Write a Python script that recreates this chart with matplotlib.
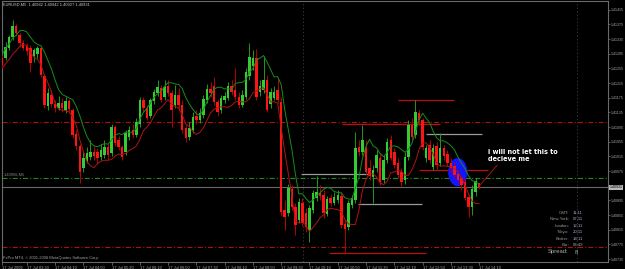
import matplotlib.pyplot as plt
import matplotlib.patches as mpatches
import matplotlib.transforms as mtransforms
import numpy as np
import pandas as pd

plt.rcParams["lines.scale_dashes"] = False
plt.rcParams["font.family"] = ["Liberation Sans", "DejaVu Sans"]

# EURUSD M5, 17 Jul 2009, bars 02:55 .. 14:10
opens = [
    1.41284, 1.41284, 1.41311, 1.41341, 1.41371, 1.41346, 1.41325, 1.41316, 1.41311, 1.41289,
    1.41295, 1.41311, 1.41235, 1.41153, 1.41183, 1.41158, 1.41147, 1.41161, 1.41142, 1.41166,
    1.41142, 1.41076, 1.41043, 1.40983, 1.41002, 1.41013, 1.41027, 1.41027, 1.41013, 1.41019,
    1.41041, 1.41024, 1.41095, 1.41060, 1.41041, 1.41027, 1.41068, 1.41087, 1.41073, 1.41103,
    1.41169, 1.41147, 1.41125, 1.41166, 1.41188, 1.41202, 1.41177, 1.41207, 1.41188, 1.41155,
    1.41183, 1.41155, 1.41093, 1.41068, 1.41087, 1.41125, 1.41114, 1.41128, 1.41169, 1.41199,
    1.41207, 1.41164, 1.41142, 1.41169, 1.41174, 1.41207, 1.41196, 1.41177, 1.41155, 1.41177,
    1.41235, 1.41262, 1.41284, 1.41191, 1.41196, 1.41224, 1.41158, 1.41174, 1.41196, 1.41164,
    1.40869, 1.40861, 1.40926, 1.40877, 1.40841, 1.40888, 1.40861, 1.40814, 1.40869, 1.40901,
    1.40915, 1.40910, 1.40858, 1.40901, 1.40888, 1.40896, 1.40907, 1.40830, 1.40822, 1.40882,
    1.40896, 1.41041, 1.41027, 1.41038, 1.40983, 1.40959, 1.40983, 1.41011, 1.40951, 1.41005,
    1.41060, 1.41027, 1.40997, 1.40972, 1.40951, 1.41013, 1.41101, 1.41073, 1.41134, 1.41114,
    1.41011, 1.41046, 1.40986, 1.41043, 1.40997, 1.41038, 1.41022, 1.40997, 1.40989, 1.40967,
    1.40956, 1.40945, 1.40904, 1.40877, 1.40918, 1.40942,
]
highs = [
    1.41292, 1.41327, 1.41346, 1.41387, 1.41376, 1.41352, 1.41333, 1.41325, 1.41319, 1.41311,
    1.41316, 1.41314, 1.41240, 1.41202, 1.41196, 1.41169, 1.41180, 1.41174, 1.41177, 1.41172,
    1.41147, 1.41087, 1.41049, 1.41027, 1.41041, 1.41060, 1.41043, 1.41038, 1.41049, 1.41060,
    1.41052, 1.41103, 1.41101, 1.41071, 1.41046, 1.41087, 1.41098, 1.41103, 1.41120, 1.41177,
    1.41177, 1.41155, 1.41174, 1.41199, 1.41224, 1.41210, 1.41224, 1.41224, 1.41196, 1.41210,
    1.41202, 1.41169, 1.41101, 1.41109, 1.41136, 1.41142, 1.41147, 1.41183, 1.41213, 1.41218,
    1.41232, 1.41172, 1.41183, 1.41191, 1.41218, 1.41224, 1.41256, 1.41191, 1.41196, 1.41256,
    1.41325, 1.41305, 1.41308, 1.41224, 1.41289, 1.41237, 1.41202, 1.41207, 1.41229, 1.41177,
    1.40896, 1.40940, 1.40937, 1.40888, 1.40901, 1.40901, 1.40874, 1.40882, 1.40923, 1.40962,
    1.40937, 1.40923, 1.40907, 1.40912, 1.40918, 1.40923, 1.40918, 1.40841, 1.40896, 1.40910,
    1.41082, 1.41060, 1.41101, 1.41060, 1.41005, 1.40992, 1.41032, 1.41024, 1.41019, 1.41065,
    1.41073, 1.41038, 1.41011, 1.40983, 1.41027, 1.41114, 1.41120, 1.41169, 1.41142, 1.41120,
    1.41046, 1.41060, 1.41049, 1.41054, 1.41079, 1.41046, 1.41032, 1.41011, 1.41000, 1.40978,
    1.40964, 1.40956, 1.40912, 1.40937, 1.40956, 1.40942,
]
lows = [
    1.41256, 1.41278, 1.41305, 1.41333, 1.41344, 1.41314, 1.41305, 1.41292, 1.41245, 1.41273,
    1.41284, 1.41232, 1.41147, 1.41142, 1.41150, 1.41136, 1.41142, 1.41136, 1.41134, 1.41134,
    1.41065, 1.41032, 1.40942, 1.40972, 1.40997, 1.41005, 1.41005, 1.40997, 1.41005, 1.41011,
    1.41005, 1.41016, 1.41043, 1.41032, 1.41005, 1.41019, 1.41060, 1.41065, 1.41068, 1.41095,
    1.41136, 1.41114, 1.41120, 1.41158, 1.41180, 1.41164, 1.41169, 1.41180, 1.41095, 1.41147,
    1.41142, 1.41079, 1.41054, 1.41060, 1.41079, 1.41103, 1.41106, 1.41120, 1.41161, 1.41177,
    1.41155, 1.41125, 1.41134, 1.41161, 1.41169, 1.41183, 1.41169, 1.41147, 1.41150, 1.41172,
    1.41224, 1.41251, 1.41169, 1.41180, 1.41188, 1.41136, 1.41147, 1.41169, 1.41161, 1.40852,
    1.40814, 1.40852, 1.40869, 1.40800, 1.40833, 1.40825, 1.40809, 1.40781, 1.40861, 1.40893,
    1.40896, 1.40847, 1.40852, 1.40880, 1.40882, 1.40888, 1.40820, 1.40751, 1.40814, 1.40874,
    1.40888, 1.41016, 1.41019, 1.40964, 1.40951, 1.40888, 1.40972, 1.40937, 1.40942, 1.40997,
    1.41005, 1.40983, 1.40956, 1.40934, 1.40940, 1.41005, 1.41060, 1.41065, 1.41101, 1.41032,
    1.41000, 1.40997, 1.40978, 1.40978, 1.40989, 1.41005, 1.40989, 1.40972, 1.40956, 1.40940,
    1.40923, 1.40896, 1.40850, 1.40855, 1.40907, 1.40927,
]
closes = [
    1.41265, 1.41314, 1.41341, 1.41371, 1.41352, 1.41325, 1.41311, 1.41303, 1.41270, 1.41305,
    1.41311, 1.41237, 1.41155, 1.41188, 1.41158, 1.41147, 1.41161, 1.41147, 1.41166, 1.41144,
    1.41073, 1.41043, 1.40972, 1.41011, 1.41024, 1.41027, 1.41016, 1.41011, 1.41032, 1.41041,
    1.41019, 1.41095, 1.41052, 1.41041, 1.41013, 1.41079, 1.41087, 1.41073, 1.41109, 1.41169,
    1.41147, 1.41120, 1.41169, 1.41191, 1.41204, 1.41169, 1.41204, 1.41188, 1.41142, 1.41183,
    1.41155, 1.41087, 1.41065, 1.41093, 1.41123, 1.41114, 1.41134, 1.41172, 1.41199, 1.41188,
    1.41164, 1.41136, 1.41174, 1.41180, 1.41207, 1.41191, 1.41177, 1.41155, 1.41183, 1.41245,
    1.41286, 1.41284, 1.41177, 1.41207, 1.41224, 1.41142, 1.41191, 1.41191, 1.41169, 1.40863,
    1.40850, 1.40929, 1.40877, 1.40828, 1.40891, 1.40833, 1.40822, 1.40874, 1.40915, 1.40918,
    1.40907, 1.40861, 1.40899, 1.40888, 1.40904, 1.40910, 1.40828, 1.40817, 1.40888, 1.40901,
    1.41038, 1.41027, 1.41060, 1.40972, 1.40962, 1.40978, 1.41019, 1.40945, 1.41005, 1.41054,
    1.41011, 1.40992, 1.40964, 1.40945, 1.41013, 1.41101, 1.41068, 1.41136, 1.41114, 1.41041,
    1.41038, 1.41005, 1.41038, 1.40992, 1.41038, 1.41016, 1.40997, 1.40983, 1.40964, 1.40951,
    1.40937, 1.40901, 1.40877, 1.40926, 1.40948, 1.40931,
]

time_labels = [
    "17 Jul 2009", "17 Jul 03:30", "17 Jul 04:10", "17 Jul 04:50", "17 Jul 05:30",
    "17 Jul 06:10", "17 Jul 06:50", "17 Jul 07:30", "17 Jul 08:10", "17 Jul 08:50",
    "17 Jul 09:30", "17 Jul 10:10", "17 Jul 10:50", "17 Jul 11:30", "17 Jul 12:10",
    "17 Jul 12:50", "17 Jul 13:30", "17 Jul 14:10",
]
label_bars = [0, 7, 15, 23, 31, 39, 47, 55, 63, 71, 79, 87, 95, 103, 111, 119, 127, 135]

price_ticks = [1.41415, 1.41375, 1.41335, 1.41295, 1.41255, 1.41215, 1.41175, 1.41135,
               1.41095, 1.41055, 1.41015, 1.40975, 1.40895, 1.40855, 1.40815, 1.40775,
               1.40735]

# horizontal levels across the whole chart
red_levels = [1.41109, 1.40769]
green_level = 1.40956
green_level_text = "1.40956,M5"

# short trend lines drawn by hand: start bar, end bar, price
red_seg_start = [112.1, 96.3, 118.1, 92.4]
red_seg_end = [128.0, 124.0, 137.6, 120.1]
red_seg_price = [1.41169, 1.41103, 1.40978, 1.40751]
grey_seg_start = [120.1, 84.5, 100.6]
grey_seg_end = [135.9, 104.2, 118.9]
grey_seg_price = [1.41076, 1.40967, 1.40885]

separator_bars = [85.3, 162.7]

info_labels = ["GMT:", "New York:", "London:", "Tokyo:", "Broker:", "Bar:"]
info_values = ["11:11", "07:11", "12:11", "20:11", "14:11", "03:49"]
spread = "8"

W, H = 625, 269
px_bar = 3.54  # pixels per bar

fig = plt.figure(figsize=(W / 100, H / 100), dpi=100, facecolor="black")
ax = fig.add_axes([2 / W, 1 - 262 / H, 606 / W, 261 / H])
ax.set_facecolor("black")

o = np.array(opens)
h = np.array(highs)
l = np.array(lows)
c = np.array(closes)
x = np.arange(len(o))
up = c >= o

# candles
ax.vlines(x[up], l[up], h[up], color="#1e9a1e", lw=0.7, zorder=3)
ax.vlines(x[~up], l[~up], h[~up], color="#b80000", lw=0.7, zorder=3)
body = np.maximum(np.abs(c - o), 0.000018)
ax.bar(x, body, bottom=np.minimum(o, c), width=0.7,
       color=np.where(up, "#33cc33", "#ff1414"), linewidth=0, zorder=4)

# moving averages of highs and lows
ma_high = pd.Series(highs).rolling(5, min_periods=1).mean()
ma_low = pd.Series(lows).rolling(5, min_periods=1).mean()
ax.plot(x, ma_high, color="#1a8c1a", lw=0.7, zorder=5)
ax.plot(x, ma_low, color="#b01414", lw=0.7, zorder=5)

dashdot = (0, (3.6, 1.5, 0.8, 1.5))
for lv in red_levels:
    ax.axhline(lv, color="#b01010", lw=0.8, linestyle=dashdot, zorder=2)
ax.axhline(green_level, color="#1f8a1f", lw=0.8, linestyle=dashdot, zorder=2)
ax.text(0.6, green_level + 0.00003, green_level_text, color="#8a8a8a",
        fontsize=2.9, va="bottom", ha="left")

# current bid line
ax.axhline(closes[-1], color="#6a6a6a", lw=0.8, zorder=2)

ax.hlines(red_seg_price, red_seg_start, red_seg_end, color="#b81010", lw=0.9, zorder=2)
ax.hlines(grey_seg_price, grey_seg_start, grey_seg_end, color="#9a9a9a", lw=0.9, zorder=2)

for sb in separator_bars:
    ax.axvline(sb, color="#3c3c3c", lw=0.6, linestyle=(0, (1, 1.5)), zorder=1)

# highlighted ellipse and note
ax.add_patch(mpatches.Ellipse((128.95, 1.40972), 5.4, 0.00077,
                              facecolor="#1414ff", edgecolor="none", zorder=2.5))
ax.plot([135.0, 140.1], [1.40934, 1.40991], color="#b01010", lw=0.7, zorder=6)
ax.text(137.6, 1.41035, "i will not let this to\ndecieve me", color="white",
        fontsize=4.7, fontweight="bold", family="DejaVu Sans",
        ha="left", va="top", linespacing=1.15, zorder=7)

ax.set_xlim((2 - 1) / px_bar, (608 - 1) / px_bar)
ax.set_ylim(1.40727, 1.41439)

for s in ax.spines.values():
    s.set_color("#6a6a6a")
    s.set_linewidth(0.8)

ax.yaxis.tick_right()
ax.set_yticks(price_ticks)
ax.set_yticklabels([f"{p:.5f}" for p in price_ticks])
ax.tick_params(axis="y", length=1.5, width=0.6, color="#6a6a6a",
               labelsize=2.6, labelcolor="#a8a8a8", pad=0.6)
ax.set_xticks(label_bars)
ax.set_xticklabels(time_labels)
ax.tick_params(axis="x", length=2, width=0.6, color="#6a6a6a",
               labelsize=2.9, labelcolor="#a8a8a8", pad=0.8)
for lab in ax.get_xticklabels():
    lab.set_ha("left")

# current price marker on the price scale
trans = mtransforms.blended_transform_factory(ax.transAxes, ax.transData)
ax.text(1.003, closes[-1], f"{closes[-1]:.5f}", transform=trans, fontsize=2.6,
        color="black", ha="left", va="center",
        bbox=dict(facecolor="#b8b8b8", edgecolor="none", pad=0.4), zorder=8,
        clip_on=False)

fig.text(3 / W, 1 - 5 / H,
         f"EURUSD,M5  {opens[-1]:.5f} {highs[-1]:.5f} {lows[-1]:.5f} {closes[-1]:.5f}",
         color="#c8c8c8", fontsize=2.9, ha="left", va="center")
fig.text(3 / W, 1 - 257.5 / H, "FxPro MT4, \u00a9 2001-2008 MetaQuotes Software Corp.",
         color="#a0a0a0", fontsize=2.9, ha="left", va="center")

for i, (lab, val) in enumerate(zip(info_labels, info_values)):
    yy = 1 - (213 + 6.4 * i) / H
    fig.text(569 / W, yy, lab, color="#9a9a9a", fontsize=3.1, ha="right", va="center")
    fig.text(573 / W, yy, val, color="#a8a8c8", fontsize=3.1, ha="left", va="center")
fig.text(568 / W, 1 - 252 / H, "Spread:", color="#b0b0b0", fontsize=4.2,
         ha="right", va="center")
fig.text(575 / W, 1 - 252 / H, spread, color="#b0b0b0", fontsize=4.2,
         ha="left", va="center")

fig.savefig("out.png", dpi=100, facecolor="black")
